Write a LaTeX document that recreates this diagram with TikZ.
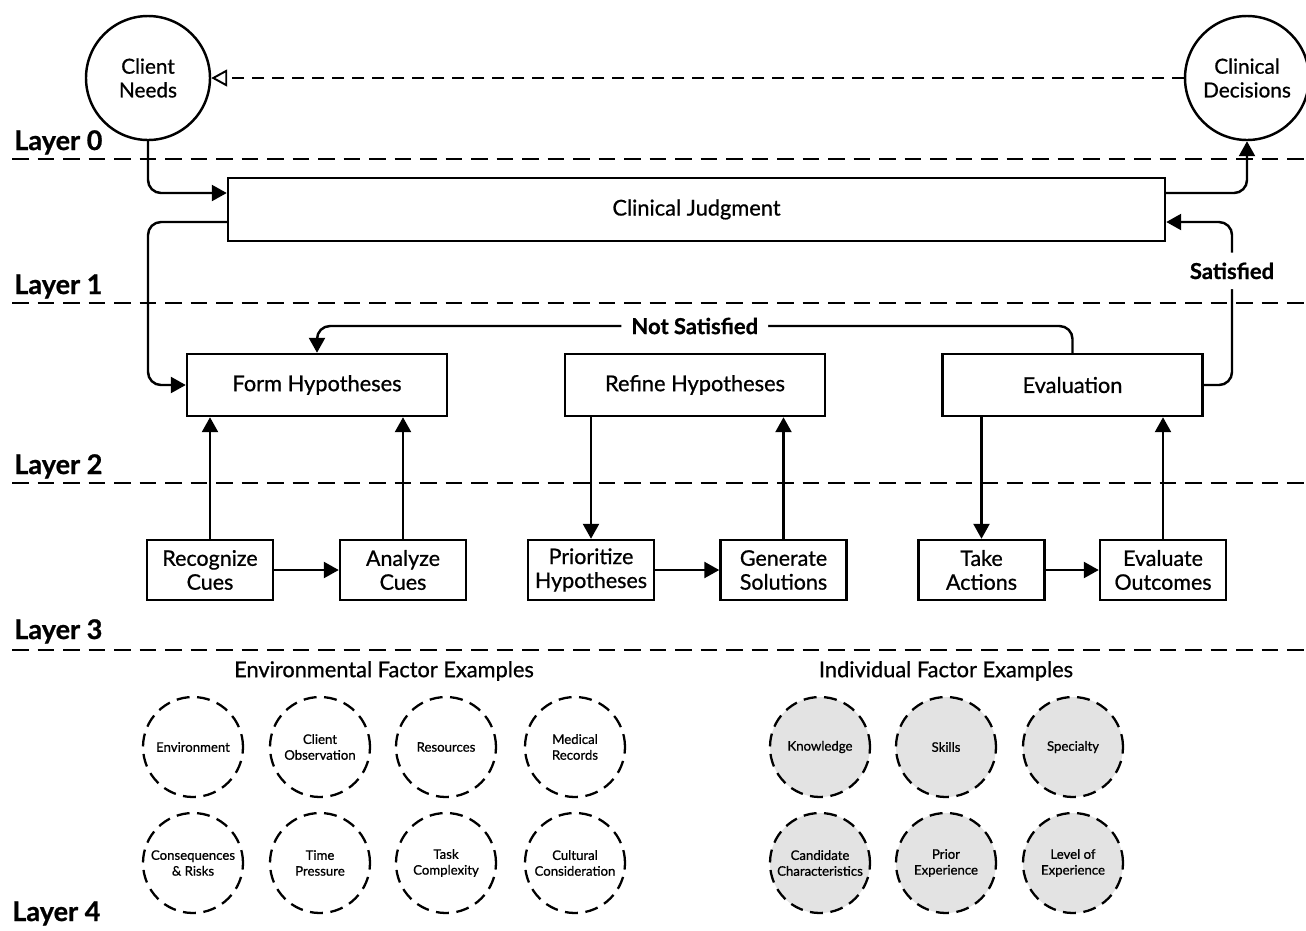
\documentclass[tikz,border=0pt]{standalone}
\usepackage{fontspec}
\setmainfont{Lato}[BoldFeatures={FakeBold=0.8}]
\newfontfamily\medfont{Lato}[FakeBold=0.8]
\usetikzlibrary{arrows.meta, positioning}

\begin{document}
\begin{tikzpicture}[x=0.2mm, y=-0.2mm,
  >={Triangle[length=3mm, width=3.2mm]},
  box/.style={draw, line width=1.4pt, minimum height=12.4mm, font=\medfont\fontsize{12.4}{14}\selectfont},
  bigbox/.style={box, minimum width=52mm},
  smallbox/.style={box, minimum width=25.2mm, minimum height=12mm, align=center, inner sep=0.5pt, font=\medfont\fontsize{12.2}{13.6}\selectfont},
  goal/.style={draw, circle, line width=1.4pt, minimum size=24.8mm, align=center, font=\medfont\fontsize{11.8}{13.5}\selectfont},
  factor/.style={draw, circle, line width=1.3pt, dash pattern=on 2.6mm off 1.5mm, minimum size=20mm, inner sep=0pt, align=center, font=\medfont\fontsize{7.5}{9}\selectfont},
  indiv/.style={factor, fill=gray!22},
  layer/.style={anchor=base west, inner sep=0pt, font=\fontsize{15.4}{17}\selectfont\bfseries},
  sep/.style={dash pattern=on 3.3mm off 1.8mm, line width=0.7pt},
  arr/.style={->, line width=1.4pt, rounded corners=2.6mm},
  lbl/.style={fill=white, font=\fontsize{12.5}{14}\selectfont\bfseries, inner sep=2mm},
  title/.style={font=\medfont\fontsize{12.4}{14}\selectfont}]
\useasboundingbox (0,0) rectangle (1306,930);

% layer separators
\foreach \y in {159,303,483,650}
  \draw[sep] (12,\y) -- (1306,\y);
\node[layer] at (14,150) {Layer 0};
\node[layer] at (14,294) {Layer 1};
\node[layer] at (14,474) {Layer 2};
\node[layer] at (14,639) {Layer 3};
\node[layer] at (12,921) {Layer 4};

% layer 0
\node[goal] (cn) at (148,78) {Client\\Needs};
\node[goal] (cd) at (1247,78) {Clinical\\Decisions};
\draw[-{Triangle[open, length=3.2mm, width=3.4mm]}, line width=1.1pt, dash pattern=on 2.4mm off 1.6mm] (cd) -- (cn);

% layer 1
\node[box, minimum width=187.4mm, minimum height=12.6mm] (cj) at (696.5,209.5) {Clinical Judgment};

% layer 2
\node[bigbox] (fh) at (317,385) {Form Hypotheses};
\node[bigbox] (rh) at (695,385) {Refine Hypotheses};
\node[bigbox] (ev) at (1072.5,385) {Evaluation};

% layer 3
\node[smallbox] (rc) at (210,570) {Recognize\\Cues};
\node[smallbox] (ac) at (403,570) {Analyze\\Cues};
\node[smallbox] (ph) at (591,570) {Prioritize\\Hypotheses};
\node[smallbox] (gs) at (783.5,570) {Generate\\Solutions};
\node[smallbox] (ta) at (981.5,570) {Take\\Actions};
\node[smallbox] (eo) at (1163,570) {Evaluate\\Outcomes};

% connectors
\draw[arr] (cn.south) -- (148,193) -- (cj.west |- 0,193);
\draw[arr] (cj.west |- 0,222) -- (148,222) -- (148,385) -- (fh.west);
\draw[arr] (cj.east |- 0,193) -- (1247,193) -- (cd.south);
\draw[arr] (ev.east) -- (1232,385) -- node[lbl, pos=0.7] {Satisfied} (1232,222) -- (cj.east |- 0,222);
\draw[arr] (ev.north) -- (ev.north |- 0,326) -- node[lbl] {Not Satisfied} (fh.north |- 0,326) -- (fh.north);

\draw[arr] (rc) -- (ac);
\draw[arr] (ph) -- (gs);
\draw[arr] (ta) -- (eo);
\draw[arr] (rc.north) -- (rc.north |- fh.south);
\draw[arr] (ac.north) -- (ac.north |- fh.south);
\draw[arr] (ph.north |- rh.south) -- (ph.north);
\draw[arr] (gs.north) -- (gs.north |- rh.south);
\draw[arr] (ta.north |- ev.south) -- (ta.north);
\draw[arr] (eo.north) -- (eo.north |- ev.south);

% layer 4
\node[title] (envt) at (384,671) {Environmental Factor Examples};
\node[title] (indt) at (946,671) {Individual Factor Examples};

\node[factor] (f1) at (193,747) {Environment};
\node[factor] (f2) at (320,747) {Client\\Observation};
\node[factor] (f3) at (446,747) {Resources};
\node[factor] (f4) at (575,747) {Medical\\Records};
\node[factor] (f5) at (193,863) {Consequences\\\& Risks};
\node[factor] (f6) at (320,863) {Time\\Pressure};
\node[factor] (f7) at (446,863) {Task\\Complexity};
\node[factor] (f8) at (575,863) {Cultural\\Consideration};

\node[indiv] (i1) at (820,747) {Knowledge};
\node[indiv] (i2) at (946,747) {Skills};
\node[indiv] (i3) at (1073,747) {Specialty};
\node[indiv] (i4) at (820,863) {Candidate\\Characteristics};
\node[indiv] (i5) at (946,863) {Prior\\Experience};
\node[indiv] (i6) at (1073,863) {Level of\\Experience};
\end{tikzpicture}
\end{document}
